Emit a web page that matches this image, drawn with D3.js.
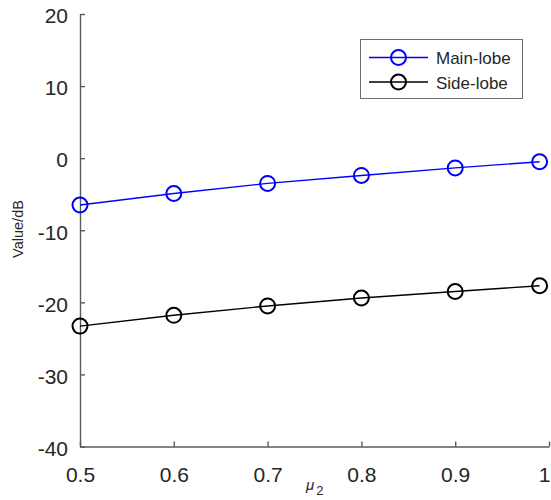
<!DOCTYPE html>
<html>
<head>
<meta charset="utf-8">
<script src="https://cdn.jsdelivr.net/npm/d3@7"></script>
<style>
  body { margin: 0; background: #fff; }
  svg { display: block; font-family: "Liberation Sans", Arial, sans-serif; }
  .axis path, .axis line { stroke: #5a5a5a; stroke-width: 1.4; }
  .axis text { fill: #262626; font-size: 21px; }
</style>
</head>
<body>
<div id="chart"></div>
<script>
// mu_2 sweep: main-lobe and side-lobe levels in dB
const mu2 = [0.5, 0.6, 0.7, 0.8, 0.9, 0.99];
const mainLobe = [-6.5, -4.9, -3.5, -2.4, -1.35, -0.5];
const sideLobe = [-23.3, -21.8, -20.5, -19.4, -18.5, -17.7];
const xTicks = [0.5, 0.6, 0.7, 0.8, 0.9, 1];
const yTicks = [-40, -30, -20, -10, 0, 10, 20];
const seriesNames = ["Main-lobe", "Side-lobe"];
const seriesColors = ["#0000ff", "#000000"];

const width = 551;
const height = 500;

const svg = d3.select("#chart")
  .append("svg")
  .attr("width", width)
  .attr("height", height);

const x = d3.scaleLinear().domain([0.5, 1]).range([80, 549]);
const y = d3.scaleLinear().domain([-40, 20]).range([446.5, 14]);

// axes: ticks point inward like the matlab figure, plain hyphen minus signs
const xAxisG = svg.append("g")
  .attr("class", "axis")
  .attr("transform", `translate(0, ${y(-40)})`)
  .call(d3.axisBottom(x).tickValues(xTicks).tickSizeInner(-5).tickSizeOuter(0)
    .tickPadding(21).tickFormat(d => String(d)));

// the last label sits on the right edge; keep it inside the picture
xAxisG.selectAll(".tick text")
  .filter(d => d === 1)
  .attr("text-anchor", "end")
  .attr("dx", 1);

svg.append("g")
  .attr("class", "axis")
  .attr("transform", `translate(${x(0.5)}, 0)`)
  .call(d3.axisLeft(y).tickValues(yTicks).tickSizeInner(-5).tickSizeOuter(0)
    .tickPadding(12).tickFormat(d => String(d)))
  .selectAll("text")
  .attr("dy", "0.42em");

// axis labels
svg.append("text")
  .attr("transform", "translate(23, 229) rotate(-90)")
  .attr("text-anchor", "middle")
  .attr("fill", "#262626")
  .attr("font-size", 14.5)
  .text("Value/dB");

const xl = svg.append("text")
  .attr("x", 306)
  .attr("y", 490)
  .attr("fill", "#262626")
  .attr("font-size", 15)
  .attr("font-style", "italic");
xl.append("tspan").text("μ");
xl.append("tspan").attr("dx", 2).attr("dy", 5).attr("font-size", 13).attr("font-style", "normal").text("2");

const series = [mainLobe, sideLobe];
const line = d3.line().x((d, i) => x(mu2[i])).y(d => y(d));

series.forEach((vals, k) => {
  svg.append("path")
    .datum(vals)
    .attr("d", line)
    .attr("fill", "none")
    .attr("stroke", seriesColors[k])
    .attr("stroke-width", 1.4);

  svg.selectAll(null)
    .data(vals)
    .join("circle")
    .attr("cx", (d, i) => x(mu2[i]))
    .attr("cy", d => y(d))
    .attr("r", 7.5)
    .attr("fill", "none")
    .attr("stroke", seriesColors[k])
    .attr("stroke-width", 2);
});

// legend
const legend = svg.append("g");
legend.append("rect")
  .attr("x", 360.5)
  .attr("y", 39.5)
  .attr("width", 162)
  .attr("height", 59)
  .attr("fill", "#fff")
  .attr("stroke", "#6e6e6e")
  .attr("stroke-width", 1);

seriesNames.forEach((name, k) => {
  const ly = 57.5 + k * 24.5;
  legend.append("line")
    .attr("x1", 369).attr("x2", 428)
    .attr("y1", ly).attr("y2", ly)
    .attr("stroke", seriesColors[k])
    .attr("stroke-width", 1.4);
  legend.append("circle")
    .attr("cx", 398.5).attr("cy", ly)
    .attr("r", 7.5)
    .attr("fill", "none")
    .attr("stroke", seriesColors[k])
    .attr("stroke-width", 2);
  legend.append("text")
    .attr("x", 436)
    .attr("y", ly + 6.5)
    .attr("fill", "#262626")
    .attr("font-size", 17)
    .text(name);
});
</script>
</body>
</html>
